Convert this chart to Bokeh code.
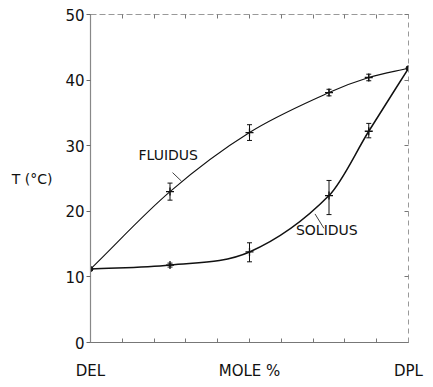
from bokeh.plotting import figure
from bokeh.models import (ColumnDataSource, Whisker, TeeHead, LinearAxis, FixedTicker,
                          Label, Range1d)
from bokeh.embed import file_html
from bokeh.resources import INLINE

# ---- data ----
mole_pct = [0, 25, 50, 75, 87.5, 100]
fluidus_T = [11.2, 23.0, 32.0, 38.1, 40.4, 41.8]
fluidus_err = [0.0, 1.3, 1.2, 0.5, 0.5, 0.0]
solidus_T = [11.2, 11.8, 13.8, 22.4, 32.2, 41.8]
solidus_err_lo = [0.0, 0.3, 1.5, 2.9, 1.0, 0.0]
solidus_err_hi = [0.0, 0.3, 1.4, 2.3, 1.2, 0.0]
y_ticks = [0, 10, 20, 30, 40, 50]
x_ticks = [0, 10, 20, 30, 40, 50, 60, 70, 80, 90, 100]
x_tick_labels = {0: "DEL", 50: "MOLE %", 100: "DPL"}
y_title = "T (°C)"

FONT = "DejaVu Sans"
INK = "#111111"

p = figure(width=433, height=387, output_backend="svg", toolbar_location=None,
           x_range=Range1d(0, 100), y_range=Range1d(0, 50),
           x_axis_location=None, y_axis_location=None,
           min_border_left=90, min_border_right=25, min_border_top=14,
           min_border_bottom=45, background_fill_color="white",
           border_fill_color="white")
p.outline_line_color = None
p.grid.visible = False


def smooth(xs, ys):
    """Cubic Hermite (bezier) segments through the data points."""
    n = len(xs)
    m = []
    for i in range(n):
        a = max(i - 1, 0)
        b = min(i + 1, n - 1)
        m.append((ys[b] - ys[a]) / (xs[b] - xs[a]))
    d = dict(x0=[], y0=[], x1=[], y1=[], cx0=[], cy0=[], cx1=[], cy1=[])
    for i in range(n - 1):
        h = xs[i + 1] - xs[i]
        d["x0"].append(xs[i]); d["y0"].append(ys[i])
        d["x1"].append(xs[i + 1]); d["y1"].append(ys[i + 1])
        d["cx0"].append(xs[i] + h / 3); d["cy0"].append(ys[i] + m[i] * h / 3)
        d["cx1"].append(xs[i + 1] - h / 3); d["cy1"].append(ys[i + 1] - m[i + 1] * h / 3)
    return d


for ys, w in ((fluidus_T, 1.1), (solidus_T, 1.5)):
    src = ColumnDataSource(smooth(mole_pct, ys))
    p.bezier(x0="x0", y0="y0", x1="x1", y1="y1", cx0="cx0", cy0="cy0",
             cx1="cx1", cy1="cy1", source=src, line_color=INK, line_width=w)

# error bars
fl = ColumnDataSource(dict(x=mole_pct[1:-1],
                           lo=[t - e for t, e in zip(fluidus_T[1:-1], fluidus_err[1:-1])],
                           hi=[t + e for t, e in zip(fluidus_T[1:-1], fluidus_err[1:-1])]))
so = ColumnDataSource(dict(x=mole_pct[1:-1],
                           lo=[t - e for t, e in zip(solidus_T[1:-1], solidus_err_lo[1:-1])],
                           hi=[t + e for t, e in zip(solidus_T[1:-1], solidus_err_hi[1:-1])]))
for src in (fl, so):
    p.add_layout(Whisker(base="x", lower="lo", upper="hi", source=src,
                         line_color=INK, line_width=1,
                         lower_head=TeeHead(size=5, line_color=INK, line_width=1),
                         upper_head=TeeHead(size=5, line_color=INK, line_width=1)))

# point markers
p.scatter(mole_pct[1:-1], fluidus_T[1:-1], marker="cross", size=8, line_color=INK, line_width=1.3)
p.scatter(mole_pct[1:-1], solidus_T[1:-1], marker="cross", size=8, line_color=INK, line_width=1.3)
p.scatter([mole_pct[0], mole_pct[-1]], [fluidus_T[0], fluidus_T[-1]], marker="circle",
          size=5, fill_color=INK, line_color=INK)

# curve labels with leader lines
p.add_layout(Label(x=15.1, y=27.3, text="FLUIDUS", text_font=FONT, text_font_size="14px",
                   text_color=INK))
p.line([25.8, 28.6], [25.9, 24.6], line_color=INK, line_width=0.8)
p.add_layout(Label(x=64.6, y=15.9, text="SOLIDUS", text_font=FONT, text_font_size="14px",
                   text_color=INK))
p.line([70.6, 73.4], [19.6, 17.4], line_color=INK, line_width=0.8)

# axes
left = LinearAxis(ticker=FixedTicker(ticks=y_ticks), axis_label=y_title)
left.axis_line_color = "#888888"
left.axis_line_width = 1.2
left.major_tick_out = 4
left.major_tick_in = 0
left.major_tick_line_color = "#666666"
left.minor_tick_line_color = None
left.major_label_text_font = FONT
left.major_label_text_font_size = "15px"
left.major_label_text_color = INK
left.major_label_standoff = 2
left.axis_label_text_font = FONT
left.axis_label_text_font_size = "14px"
left.axis_label_text_font_style = "normal"
left.axis_label_text_color = INK
left.axis_label_standoff = 10
try:
    left.axis_label_orientation = "horizontal"
except Exception:
    pass
p.add_layout(left, "left")

bottom = LinearAxis(ticker=FixedTicker(ticks=x_ticks),
                    major_label_overrides={t: x_tick_labels.get(t, "") for t in x_ticks})
bottom.axis_line_color = "#777777"
bottom.axis_line_width = 1
bottom.major_tick_in = 4
bottom.major_tick_out = 0
bottom.major_tick_line_color = "#777777"
bottom.minor_tick_line_color = None
bottom.major_label_text_font = FONT
bottom.major_label_text_font_size = "15px"
bottom.major_label_text_color = INK
bottom.major_label_standoff = 19
p.add_layout(bottom, "below")

top = LinearAxis(ticker=FixedTicker(ticks=x_ticks),
                 major_label_overrides={t: "" for t in x_ticks})
top.axis_line_color = "#999999"
top.axis_line_dash = "6 3"
top.major_tick_in = 4
top.major_tick_out = 0
top.major_tick_line_color = "#777777"
top.minor_tick_line_color = None
top.major_label_standoff = 0
p.add_layout(top, "above")

right = LinearAxis(ticker=FixedTicker(ticks=y_ticks),
                   major_label_overrides={t: "" for t in y_ticks})
right.axis_line_color = "#999999"
right.axis_line_dash = "5 4"
right.major_tick_in = 4
right.major_tick_out = 0
right.major_tick_line_color = "#777777"
right.minor_tick_line_color = None
right.major_label_standoff = 0
p.add_layout(right, "right")

open("out.html", "w").write(file_html(p, INLINE))
